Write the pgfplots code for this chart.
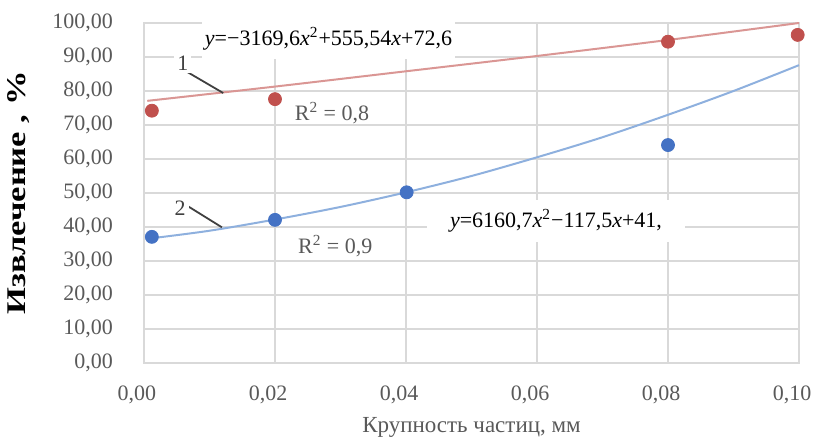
\documentclass[border=0pt]{standalone}
\usepackage{graphicx}
\usepackage{pgfplots}
\pgfplotsset{compat=1.18}
\usepackage{fontspec}
\setmainfont{Liberation Serif}

\definecolor{gridgray}{HTML}{D9D9D9}
\definecolor{ticktext}{HTML}{595959}
\definecolor{ptred}{HTML}{C0504D}
\definecolor{linered}{HTML}{DA9694}
\definecolor{ptblue}{HTML}{4472C4}
\definecolor{lineblue}{HTML}{8EB0DE}
\definecolor{leader}{HTML}{404040}

% measured points
\pgfplotstableread{
x       y
0.0012  74.2
0.0200  77.6
0.0800  94.5
0.0998  96.5
}\seriesone
\pgfplotstableread{
x       y
0.0012  37.1
0.0200  42.1
0.0401  50.2
0.0800  64.1
}\seriestwo

\begin{document}
\begin{tikzpicture}[font=\fontsize{11}{13}\selectfont]
\begin{axis}[
  scale only axis,
  width=327.5pt, height=170pt,
  xmin=0, xmax=0.1, ymin=0, ymax=100,
  xtick={0,0.02,0.04,0.06,0.08,0.1},
  ytick={0,10,...,100},
  scaled x ticks=false,
  grid=major,
  grid style={gridgray, line width=0.7pt},
  axis line style={gridgray, line width=0.7pt},
  major tick length=0pt,
  tick style={draw=none},
  /pgf/number format/fixed,
  /pgf/number format/fixed zerofill,
  /pgf/number format/precision=2,
  /pgf/number format/use comma,
  /pgf/number format/assume math mode=true,
  every x tick label/.append style={text=ticktext, font=\fontsize{11}{13}\selectfont, yshift=-8pt, xshift=-3.5pt},
  every y tick label/.append style={text=ticktext, font=\fontsize{11}{13}\selectfont, anchor=east, xshift=-12pt},
  xlabel={\fontsize{11.5}{13}\selectfont Крупность частиц, мм},
  xlabel style={ticktext, at={(axis description cs:0.5,-0.19)}, anchor=center},
  clip=false,
]
% trend lines
\addplot[linered, line width=1pt, smooth] coordinates {
  (0.0005,77.1) (0.02,81.3) (0.04,85.8) (0.06,90.3) (0.08,95.0) (0.1,100.0)
};
\addplot[lineblue, line width=1pt, smooth] coordinates {
  (0.0012,36.7) (0.01,38.9) (0.02,42.2) (0.03,45.9) (0.04,50.2)
  (0.05,55.0) (0.06,60.5) (0.07,66.4) (0.08,73.0) (0.09,80.0) (0.1,87.6)
};
% measured points
\addplot[only marks, mark=*, mark size=3.25pt, mark options={draw=ptred, fill=ptred}]
  table[x=x, y=y] {\seriesone};
\addplot[only marks, mark=*, mark size=3.25pt, mark options={draw=ptblue, fill=ptblue}]
  table[x=x, y=y] {\seriestwo};

% curve numbers with leader lines
\draw[leader, line width=0.9pt] (axis cs:0.0066,85.6) -- (axis cs:0.0121,79.4);
\draw[leader, line width=0.9pt] (axis cs:0.0068,46.0) -- (axis cs:0.0119,39.9);
\node[fill=white, text=leader, inner sep=1.5pt] at (axis cs:0.00595,88.2) {1};
\node[fill=white, text=leader, inner sep=1.5pt] at (axis cs:0.0055,45.5) {2};

% regression equations
\node[fill=white, minimum width=126.5pt, minimum height=20.5pt, inner sep=0pt]
  at (axis cs:0.02817,95.4)
  {\textit{y}=−3169,6\textit{x}\textsuperscript{2}+555,54\textit{x}+72,6};
\node[fill=white, minimum width=129pt, minimum height=21pt, inner sep=0pt]
  at (axis cs:0.0629,41.8)
  {\textit{y}=6160,7\textit{x}\textsuperscript{2}−117,5\textit{x}+41,};
\node[text=ticktext] at (axis cs:0.0287,73.4) {R\textsuperscript{2} = 0,8};
\node[text=ticktext] at (axis cs:0.0292,34.4) {R\textsuperscript{2} = 0,9};

% vertical axis title
\node[rotate=90, anchor=center, inner sep=0pt] at (axis description cs:-0.191,0.5)
  {\scalebox{1.28}[1]{\fontsize{13.5}{15}\selectfont\bfseries Извлечение , \%}};
\end{axis}
\pgfresetboundingbox
\path[use as bounding box] (-72pt,-37.5pt) rectangle (334.5pt,181.5pt);
\end{tikzpicture}
\end{document}
